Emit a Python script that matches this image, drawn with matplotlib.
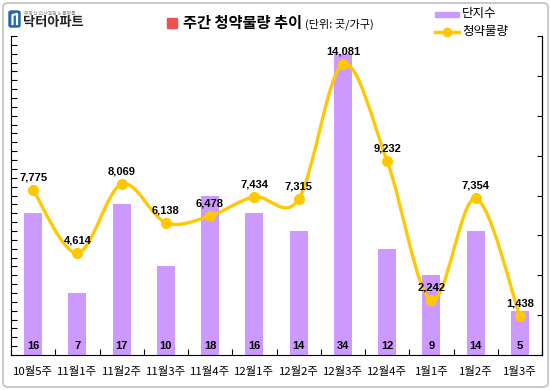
import matplotlib
matplotlib.use('Agg')
import matplotlib.pyplot as plt
import numpy as np
from matplotlib.path import Path
from matplotlib.patches import PathPatch, FancyBboxPatch, Rectangle
from matplotlib.lines import Line2D

plt.rcParams['font.family'] = ['Noto Sans CJK KR', 'DejaVu Sans']

# data
categories = ['10월5주', '11월1주', '11월2주', '11월3주', '11월4주', '12월1주',
              '12월2주', '12월3주', '12월4주', '1월1주', '1월2주', '1월3주']
complexes = [16, 7, 17, 10, 18, 16, 14, 34, 12, 9, 14, 5]
supply = [7775, 4614, 8069, 6138, 6478, 7434, 7315, 14081, 9232, 2242, 7354, 1438]

bar_color = '#CC99FF'
line_color = '#FFC800'
W, H = 551, 390


def px(x, y):
    return x / W, 1 - y / H


fig = plt.figure(figsize=(W / 100, H / 100), dpi=100)
ax = fig.add_axes([11 / W, 1 - 355 / H, (542 - 11) / W, (355 - 36) / H])
ax2 = ax.twinx()

x = np.arange(len(categories))

# bars (left axis)
ax.bar(x, complexes, width=0.41, color=bar_color, zorder=2)
for xi, v in zip(x, complexes):
    ax.annotate(str(v), (xi, 0), xytext=(0, 3), textcoords='offset points',
                ha='center', va='bottom', fontsize=8, fontweight='bold',
                family='Liberation Sans')
ax.set_ylim(0, 36)
ax.set_yticks(np.arange(0, 37, 1))
ax.set_yticklabels([])
ax.tick_params(axis='y', direction='in', length=4, width=0.8)
ax.set_xlim(-0.5, len(categories) - 0.5)
ax.set_xticks(np.arange(-0.5, len(categories), 1))
ax.set_xticklabels([])
ax.tick_params(axis='x', which='major', direction='in', length=4, width=0.8)
ax.set_xticks(x, minor=True)
ax.set_xticklabels(categories, minor=True, fontsize=8.2)
ax.tick_params(axis='x', which='minor', length=0, pad=8)
ax.spines['top'].set_visible(False)

# smoothed line (right axis), Catmull-Rom -> cubic bezier
pts = np.column_stack([x, supply]).astype(float)
verts = [pts[0]]
codes = [Path.MOVETO]
n = len(pts)
for i in range(n - 1):
    p0 = pts[i - 1] if i > 0 else pts[i]
    p1, p2 = pts[i], pts[i + 1]
    p3 = pts[i + 2] if i + 2 < n else pts[i + 1]
    c1 = p1 + (p2 - p0) / 6
    c2 = p2 - (p3 - p1) / 6
    verts += [c1, c2, p2]
    codes += [Path.CURVE4] * 3
ax2.add_patch(PathPatch(Path(verts, codes), facecolor='none',
                        edgecolor=line_color, lw=2.4, capstyle='round', zorder=3))
ax2.plot(x, supply, 'o', color=line_color, ms=7, zorder=4)
for xi, v in zip(x, supply):
    ax2.annotate(f'{v:,}', (xi, v), xytext=(0, 9), textcoords='offset points',
                 ha='center', va='center', fontsize=8, fontweight='bold',
                 family='Liberation Sans')
ax2.set_ylim(-500, 15500)
ax2.set_yticks(np.arange(-500, 15501, 2000))
ax2.set_yticklabels([])
ax2.tick_params(axis='y', direction='in', length=3.5, width=0.8)
for s in ['top', 'left', 'bottom']:
    ax2.spines[s].set_visible(False)

# outer border
fig.patches.append(FancyBboxPatch(px(3, 387), 545 / W, 384 / H,
                                  boxstyle='round,pad=0,rounding_size=0.01',
                                  transform=fig.transFigure, fill=False,
                                  edgecolor='#C0C0C0', lw=1.2))

# logo
fig.patches.append(FancyBboxPatch(px(9, 27), 11 / W, 16 / H,
                                  boxstyle='round,pad=0,rounding_size=0.004',
                                  transform=fig.transFigure, color='#2466B0'))
fig.lines.append(Line2D([12.5 / W, 12.5 / W, 17 / W, 17 / W],
                        [1 - 24 / H, 1 - 15 / H, 1 - 14 / H, 1 - 24 / H],
                        transform=fig.transFigure, color='white', lw=1.6))
fig.text(*px(24, 13.5), '부동산 의사결정 & 플랫폼', fontsize=3.5, color='#888888',
         va='center')
fig.text(*px(23, 22), '닥터아파트', fontsize=9.5, fontweight='bold',
         color='#222222', va='center')

# title
fig.patches.append(Rectangle(px(167, 28), 10 / W, 10 / H,
                             transform=fig.transFigure, color='#F05050'))
fig.text(*px(183, 23), '주간 청약물량 추이', fontsize=11, fontweight='bold',
         va='center')
fig.text(*px(305, 24.5), '(단위: 곳/가구)', fontsize=8, va='center')

# legend
fig.patches.append(Rectangle(px(435, 17), 24 / W, 5 / H,
                             transform=fig.transFigure, color=bar_color))
fig.text(*px(462, 14), '단지수', fontsize=9, va='center')
fig.lines.append(Line2D([435 / W, 459 / W], [1 - 32 / H, 1 - 32 / H],
                        transform=fig.transFigure, color=line_color, lw=2.5))
fig.lines.append(Line2D([447 / W], [1 - 32 / H], transform=fig.transFigure,
                        color=line_color, marker='o', ms=6))
fig.text(*px(462, 31), '청약물량', fontsize=9, va='center')

fig.savefig('out.png', dpi=100)
